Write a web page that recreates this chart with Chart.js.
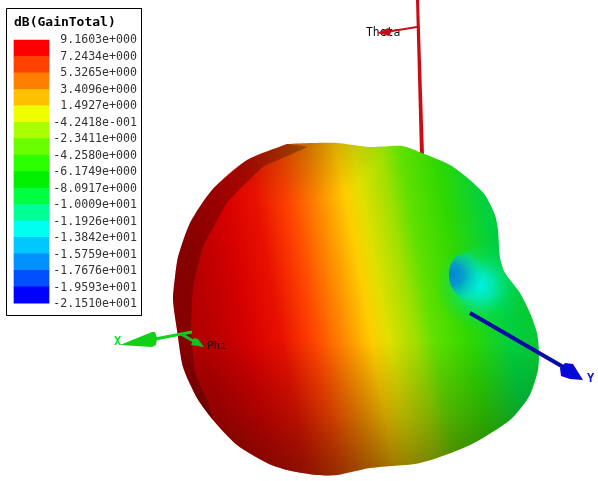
<!DOCTYPE html>
<html><head><meta charset="utf-8">
<style>html,body{margin:0;padding:0;background:#fff}#w{width:598px;height:481px;position:relative}</style>
<script src="https://cdn.jsdelivr.net/npm/chart.js@4"></script>
</head><body><div id="w"><canvas id="c"></canvas></div>
<script>
const legendTitle = 'dB(GainTotal)';
const legendLabels = ['9.1603e+000','7.2434e+000','5.3265e+000','3.4096e+000','1.4927e+000','-4.2418e-001','-2.3411e+000','-4.2580e+000','-6.1749e+000','-8.0917e+000','-1.0009e+001','-1.1926e+001','-1.3842e+001','-1.5759e+001','-1.7676e+001','-1.9593e+001','-2.1510e+001'];
const legendColors = ['#ff0000','#ff4000','#ff8000','#ffc000','#eeff00','#aaff00','#6aff00','#2bff00','#00f000','#00ff40','#00ff95','#00ffee','#00c8ff','#0090ff','#0050ff','#0000ff'];
const bodyX = [287,312,337,370,402,422,450,470,485,495,498,500,505,520,530,537,539,538,532,527,510,470,420,370,337,317,287,267,237,213,197,183,177,173,175,178,190,212,247];
const bodyY = [144,143,143,147,146,153,165,180,195,215,230,258,273,293,313,333,353,370,390,400,420,445,463,468,475,475,470,463,445,420,398,367,330,300,277,257,223,190,160];
const crescentX = [287,247,212,190,178,175,173,177,183,197,213,207,195,192,191,193,203,227,263,307];
const crescentY = [144,160,190,223,257,277,300,330,367,398,420,400,373,345,327,287,247,203,167,147];
const dimpleX = [456,451,449,450,455,464,480,500,500,480];
const dimpleY = [256,264,272,283,292,300,310,300,260,250];
const thetaAxisX = [416,419,424,420], thetaAxisY = [0,0,155,155];
const thetaShaftX = [417,386], thetaShaftY = [27,32];
const thetaConeX = [377,388,392,389], thetaConeY = [33,28,31,36];
const xShaftX = [155,192], xShaftY = [339,332];
const xConeX = [120,152,155,157,156,152], xConeY = [345,332,332,338,345,347];
const phiShaftX = [181,195], phiShaftY = [334,342];
const phiConeX = [204,191,194,198], phiConeY = [347,345,338,339];
const yShaftX = [470,565], yShaftY = [313,368];
const yConeX = [583,573,565,560,561,570], yConeY = [380,364,363,368,376,379];
const boxX = [6.5,141.5,141.5,6.5,6.5], boxY = [8.5,8.5,315.5,315.5,8.5];
const pts = (xs, ys) => xs.map((x, i) => ({x, y: ys[i]}));

function linear(x0, y0, x1, y1, stops) {
  return ctx => { const g = ctx.chart.ctx.createLinearGradient(x0, y0, x1, y1);
    stops.forEach(s => g.addColorStop(s[0], s[1])); return g; };
}
function radial(cx, cy, r, stops) {
  return ctx => { const g = ctx.chart.ctx.createRadialGradient(cx, cy, 0, cx, cy, r);
    stops.forEach(s => g.addColorStop(s[0], s[1])); return g; };
}
const poly = (xs, ys, color, tension) => ({type:'scatter', data: pts(xs, ys).concat(tension ? [{x:xs[0],y:ys[0]}] : []), showLine:true, fill:'shape',
  backgroundColor: color, borderWidth:0, pointRadius:0, tension: tension || 0});
const line = (xs, ys, color, w) => ({type:'scatter', data: pts(xs, ys), showLine:true, fill:false, borderColor: color, borderWidth:w, pointRadius:0});

const layers = [
  Object.assign(poly(boxX, boxY, '#ffffff'), {borderColor:'#000', borderWidth:1}),
  poly(thetaAxisX, thetaAxisY, '#cc0c14'),
  line(thetaShaftX, thetaShaftY, '#c80f18', 2),
  poly(thetaConeX, thetaConeY, '#c40f18'),
  poly(bodyX, bodyY, linear(190, 258, 560, 190, [[0,'#b40000'],[0.11,'#d40000'],[0.20,'#e81000'],[0.285,'#ff4400'],[0.37,'#ff9000'],[0.435,'#ffcc00'],[0.48,'#e0e000'],[0.55,'#a0e000'],[0.60,'#60e000'],[0.69,'#30d800'],[0.80,'#00d040'],[0.95,'#10c020']]), 0.25),
  poly(bodyX, bodyY, radial(480, 286, 46, [[0,'rgba(0,240,225,1)'],[0.3,'rgba(0,235,195,0.85)'],[0.65,'rgba(0,225,120,0.4)'],[1,'rgba(0,220,80,0)']]), 0.25),
  poly(dimpleX, dimpleY, radial(452, 275, 32, [[0,'rgba(5,130,215,1)'],[0.35,'rgba(5,150,215,0.9)'],[0.7,'rgba(0,195,215,0.5)'],[1,'rgba(0,230,220,0)']]), 0.25),
  poly(bodyX, bodyY, linear(0, 340, 0, 476, [[0,'rgba(0,0,0,0)'],[0.55,'rgba(20,10,0,0.22)'],[1,'rgba(40,20,0,0.48)']]), 0.25),
  poly(bodyX, bodyY, radial(295, 105, 100, [[0,'rgba(40,20,0,0.38)'],[0.5,'rgba(40,20,0,0.2)'],[1,'rgba(40,20,0,0)']]), 0.25),
  poly(crescentX, crescentY, 'rgba(30,0,0,0.30)', 0.1),
  line(xShaftX, xShaftY, '#10d020', 3),
  line(phiShaftX, phiShaftY, '#10c020', 3),
  poly(xConeX, xConeY, '#10d018'),
  poly(phiConeX, phiConeY, '#10c020'),
  line(yShaftX, yShaftY, '#0a0aa8', 4),
  poly(yConeX, yConeY, '#0808d8'),
  {type:'bar', data: legendColors.map((_, i) => ({x:31.5, y:[40 + i*16.45, 40 + (i+1)*16.45]})), backgroundColor: legendColors, barThickness:35, borderWidth:0}
];
layers.forEach((d, i) => d.order = layers.length - i);

const textPlugin = {
  id:'labels',
  beforeDatasetsDraw(chart) {
    const c = chart.ctx; c.save(); c.textBaseline = 'middle';
    c.font = '11.4px "DejaVu Sans Mono"'; c.fillStyle = '#111'; c.fillText('Theta', 366, 33);
    c.restore();
  },
  afterDatasetsDraw(chart) {
    const c = chart.ctx; c.save(); c.textBaseline = 'middle';
    c.font = 'bold 13px "DejaVu Sans Mono"'; c.fillStyle = '#000'; c.fillText(legendTitle, 14, 23);
    c.font = '11.6px "DejaVu Sans Mono"'; c.fillStyle = '#333'; c.textAlign = 'right';
    legendLabels.forEach((t, i) => c.fillText(t, 137, 40 + i*16.5));
    c.textAlign = 'left';
    c.font = '11px "DejaVu Sans Mono"'; c.fillStyle = '#2a0a0a'; c.fillText('Phi', 207, 346);
    c.font = 'bold 12px "DejaVu Sans Mono"'; c.fillStyle = '#10e030'; c.fillText('X', 114, 342);
    c.fillStyle = '#1010e0'; c.fillText('Y', 587, 379);
    c.restore();
  }
};

new Chart(document.getElementById('c'), {
  type:'scatter',
  data:{datasets:layers},
  plugins:[textPlugin],
  options:{
    responsive:true, maintainAspectRatio:false, animation:false,
    layout:{padding:0},
    plugins:{legend:{display:false}, tooltip:{enabled:false}},
    scales:{
      x:{type:'linear', min:0, max:598, display:false, offset:false},
      y:{type:'linear', min:0, max:481, reverse:true, display:false, offset:false}
    }
  }
});
</script></body></html>
